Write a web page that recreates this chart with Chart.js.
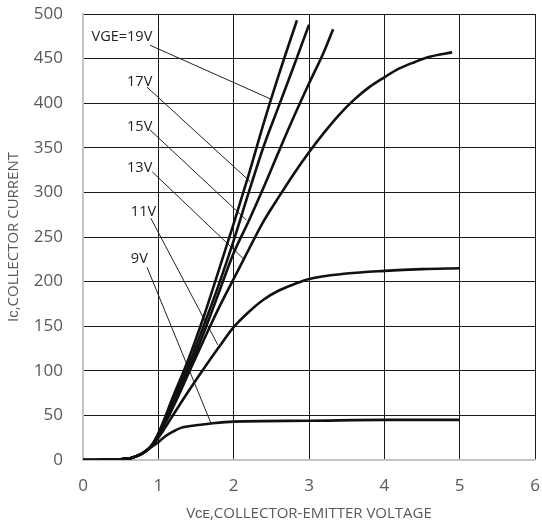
<!DOCTYPE html>
<html lang="en">
<head>
  <meta charset="UTF-8">
  <title>IGBT Output Characteristics</title>
  <script src="https://cdn.jsdelivr.net/npm/chart.js"></script>
  <style>
    html, body { margin: 0; padding: 0; background: #fff; }
    #wrap { width: 542px; height: 527px; }
  </style>
</head>
<body>
  <div id="wrap"><canvas id="icChart" width="542" height="527"></canvas></div>
  <script>
    // Output curves, Ic vs Vce for each gate voltage
    const vge9X  = [0, 0.3, 0.6, 0.7, 0.8, 0.9, 1.0, 1.1, 1.2, 1.3, 1.5, 1.7, 2.0, 3.0, 4.0, 5.0];
    const vge9Y  = [0, 0.3, 1.5, 4, 8, 14, 20, 27, 32, 36, 39, 41, 43, 44, 45, 45];

    const vge11X = [0, 0.3, 0.6, 0.7, 0.8, 0.9, 1.0, 1.2, 1.4, 1.6, 1.8, 2.0, 2.2, 2.4, 2.6, 2.8, 3.0, 3.5, 4.0, 4.5, 5.0];
    const vge11Y = [0, 0.3, 1.5, 4, 8, 15, 25, 51, 77, 102, 126, 149, 166, 180, 190, 197, 203, 209, 212, 214, 215];

    const vge13X = [0, 0.3, 0.6, 0.7, 0.8, 0.9, 1.0, 1.2, 1.4, 1.6, 1.8, 2.0, 2.2, 2.4, 2.6, 2.8, 3.0, 3.2, 3.4, 3.6, 3.8, 4.0, 4.2, 4.4, 4.6, 4.9];
    const vge13Y = [0, 0.3, 1.5, 4, 8, 15, 27, 60, 97, 134, 170, 203, 236, 268, 295, 321, 345, 367, 387, 404, 418, 429, 439, 446, 452, 457];

    const vge15X = [0, 0.3, 0.6, 0.7, 0.8, 0.9, 1.0, 1.2, 1.4, 1.6, 1.8, 2.0, 2.2, 2.4, 2.6, 2.8, 3.0, 3.2, 3.32];
    const vge15Y = [0, 0.3, 1.5, 4, 8, 15, 28, 64, 100, 142, 187, 232, 268, 306, 346, 385, 422, 458, 483];

    const vge17X = [0, 0.3, 0.6, 0.7, 0.8, 0.9, 1.0, 1.2, 1.4, 1.6, 1.8, 2.0, 2.2, 2.4, 2.6, 2.8, 3.0];
    const vge17Y = [0, 0.3, 1.5, 4, 8, 15, 29, 68, 106, 150, 196, 246, 300, 352, 397, 442, 488];

    const vge19X = [0, 0.3, 0.6, 0.7, 0.8, 0.9, 1.0, 1.2, 1.4, 1.6, 1.8, 2.0, 2.2, 2.4, 2.6, 2.84];
    const vge19Y = [0, 0.3, 1.5, 4, 8, 15, 30, 72, 113, 160, 212, 265, 320, 378, 432, 493];

    // Curve labels: text, anchor (right edge of text) and leader line end on the curve
    const labelText  = ['VGE=19V', '17V', '15V', '13V', '11V', '9V'];
    const labelX     = [0.92, 0.92, 0.92, 0.92, 0.97, 0.86];
    const labelY     = [474, 424, 374, 328, 278, 226];
    const leaderFromX = [0.89, 0.85, 0.89, 0.92, 0.90, 0.85];
    const leaderFromY = [465, 418, 370, 323, 271, 216];
    const leaderToX   = [2.51, 2.22, 2.17, 2.15, 1.79, 1.70];
    const leaderToY   = [404, 312, 269, 224, 129, 41];

    const xTicks = [0, 1, 2, 3, 4, 5, 6];
    const yTicks = [0, 50, 100, 150, 200, 250, 300, 350, 400, 450, 500];

    function toPoints(xs, ys) {
      return xs.map((x, i) => ({ x: x, y: ys[i] }));
    }

    const curves = [
      [vge9X, vge9Y], [vge11X, vge11Y], [vge13X, vge13Y],
      [vge15X, vge15Y], [vge17X, vge17Y], [vge19X, vge19Y]
    ];

    const datasets = curves.map(c => ({
      data: toPoints(c[0], c[1]),
      borderColor: '#111',
      borderWidth: 2.6,
      pointRadius: 0,
      cubicInterpolationMode: 'monotone',
      fill: false
    }));

    leaderFromX.forEach((x, i) => {
      datasets.push({
        data: [{ x: x, y: leaderFromY[i] }, { x: leaderToX[i], y: leaderToY[i] }],
        borderColor: '#222',
        borderWidth: 1,
        pointRadius: 0,
        tension: 0,
        fill: false
      });
    });

    // writes the gate voltage labels next to their leader lines
    const curveLabels = {
      id: 'curveLabels',
      afterDatasetsDraw(chart) {
        const ctx = chart.ctx;
        const xs = chart.scales.x, ys = chart.scales.y;
        ctx.save();
        ctx.font = '14.5px "Open Sans", sans-serif';
        ctx.fillStyle = '#222';
        ctx.textAlign = 'right';
        ctx.textBaseline = 'middle';
        labelText.forEach((t, i) => {
          ctx.fillText(t, xs.getPixelForValue(labelX[i]), ys.getPixelForValue(labelY[i]));
        });
        ctx.restore();
      }
    };

    const axisGray = '#c4c4c4';
    const tickGray = '#595959';

    new Chart(document.getElementById('icChart'), {
      type: 'line',
      data: { datasets: datasets },
      options: {
        responsive: false,
        animation: false,
        layout: { padding: { top: 14, right: 7, left: 0, bottom: 0 } },
        plugins: {
          legend: { display: false },
          tooltip: { enabled: false }
        },
        scales: {
          x: {
            type: 'linear',
            min: 0,
            max: 6,
            afterFit(scale) {
              scale.height = 67;
              scale.paddingLeft = 0;
              scale.paddingRight = 0;
            },
            afterBuildTicks(scale) { scale.ticks = xTicks.map(v => ({ value: v })); },
            border: { color: axisGray, width: 2 },
            grid: {
              color: ctx => ctx.tick && ctx.tick.value === 0 ? axisGray : '#1a1a1a',
              lineWidth: ctx => ctx.tick && ctx.tick.value === 0 ? 2 : 1,
              drawTicks: false
            },
            ticks: {
              color: tickGray,
              padding: 16,
              font: { family: '"Open Sans", sans-serif', size: 17 }
            },
            title: {
              display: true,
              text: 'Vᴄᴇ,COLLECTOR-EMITTER VOLTAGE',
              color: tickGray,
              font: { family: '"Open Sans", sans-serif', size: 15 },
              padding: { top: 0, bottom: 4 }
            }
          },
          y: {
            min: 0,
            max: 500,
            afterFit(scale) {
              scale.width = 83;
              scale.paddingTop = 0;
              scale.paddingBottom = 0;
            },
            afterBuildTicks(scale) { scale.ticks = yTicks.map(v => ({ value: v })); },
            border: { color: axisGray, width: 2 },
            grid: {
              color: ctx => ctx.tick && ctx.tick.value === 0 ? axisGray : '#1a1a1a',
              lineWidth: ctx => ctx.tick && ctx.tick.value === 0 ? 2 : 1,
              drawTicks: false
            },
            ticks: {
              color: tickGray,
              padding: 20,
              font: { family: '"Open Sans", sans-serif', size: 17 }
            },
            title: {
              display: true,
              text: 'Iᴄ,COLLECTOR CURRENT',
              color: tickGray,
              font: { family: '"Open Sans", sans-serif', size: 15 },
              padding: { top: 5, bottom: 0 }
            }
          }
        }
      },
      plugins: [curveLabels]
    });
  </script>
</body>
</html>
